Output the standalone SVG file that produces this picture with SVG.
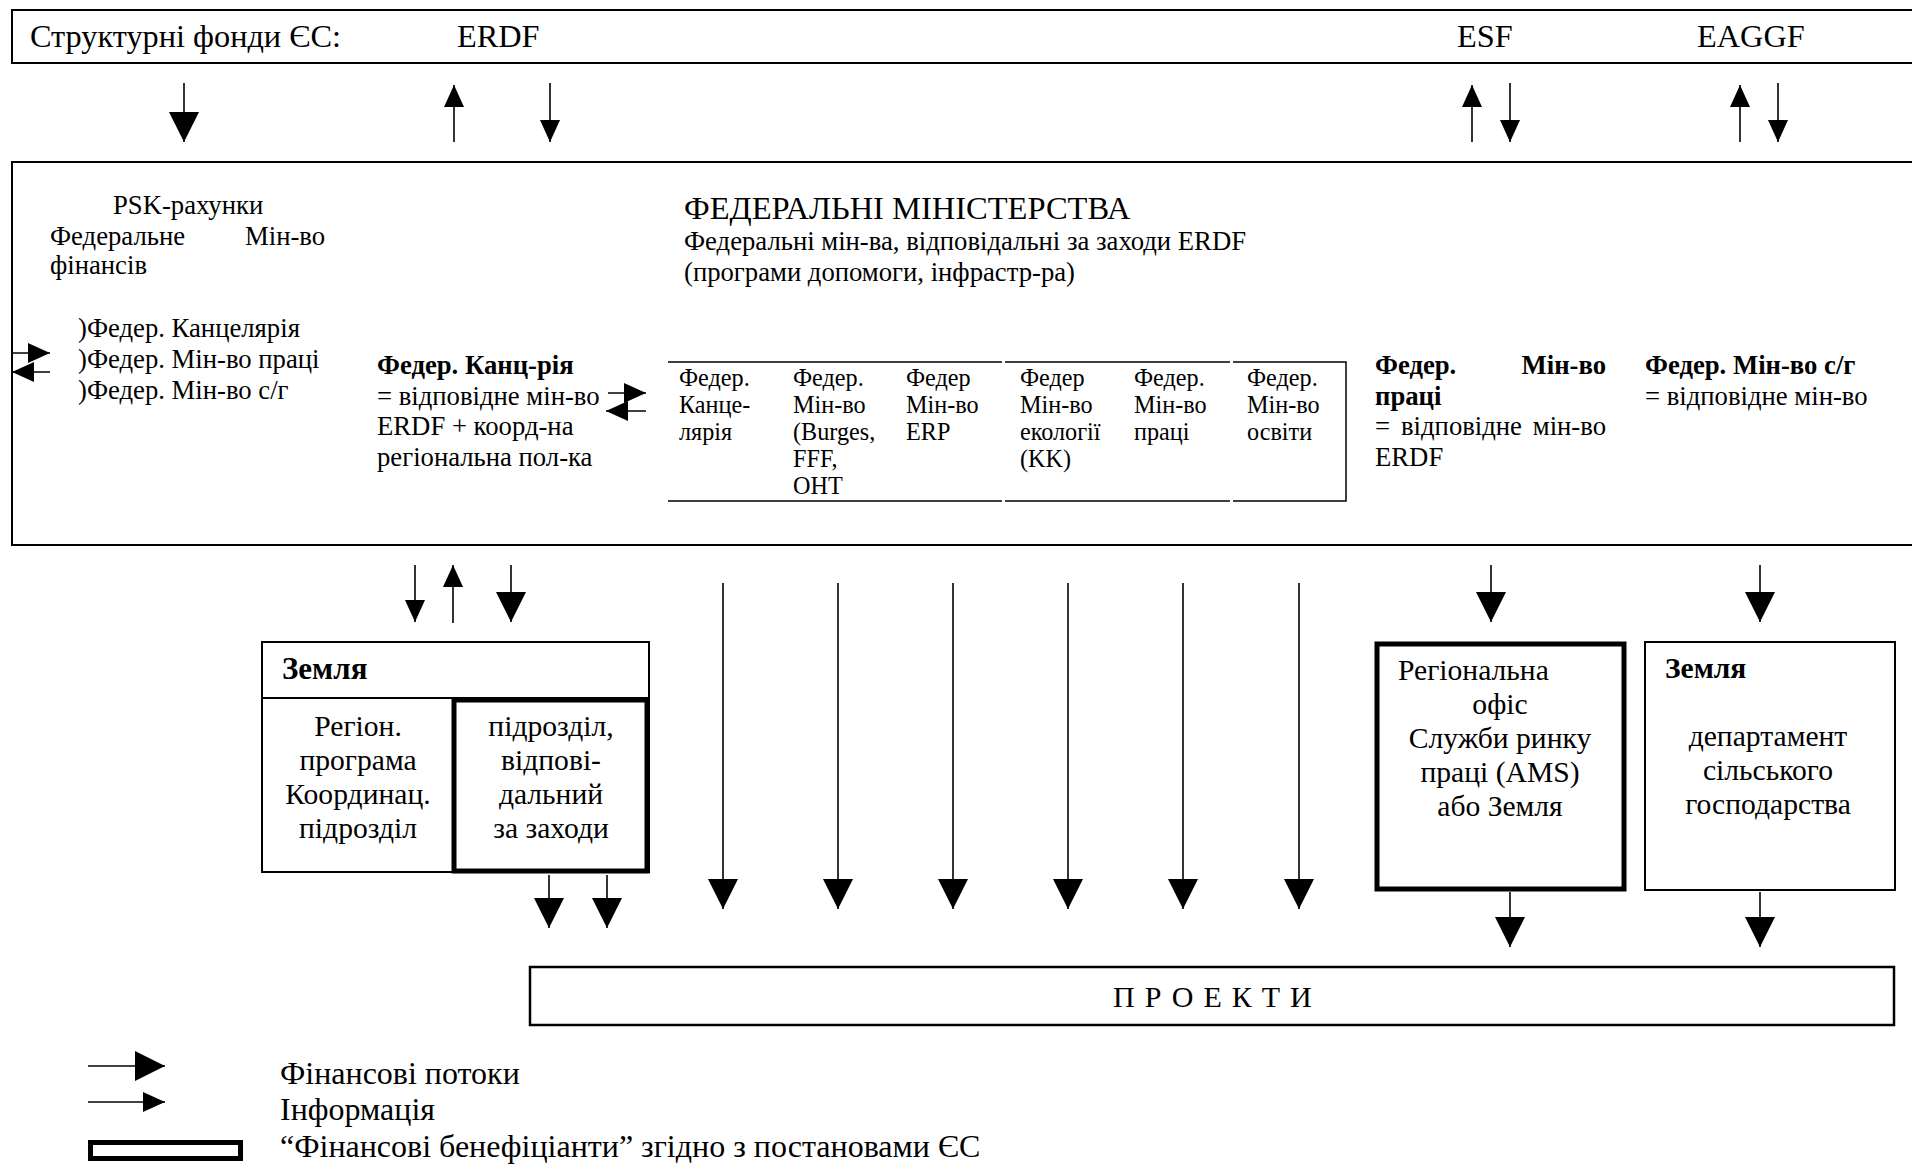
<svg xmlns="http://www.w3.org/2000/svg" width="1912" height="1165" viewBox="0 0 1912 1165">
<style>
.t{font-family:"Liberation Serif","Times New Roman",serif;fill:#000}
.b{font-weight:bold}
.f32{font-size:32.3px}
.fh{font-size:32.5px}
.fl{font-size:32px}
.fp{font-size:30px}
.f28{font-size:29.6px}
.f26{font-size:26.7px}
.f24{font-size:24.2px}
.box{fill:none;stroke:#000;stroke-width:2}
.thick{fill:none;stroke:#000;stroke-width:5}
.thin{fill:none;stroke:#000;stroke-width:1.5}
.ln{fill:none;stroke:#000;stroke-width:1.6}
.m{text-anchor:middle}
.e{text-anchor:end}
</style>
<defs>
<marker id="fin" markerUnits="userSpaceOnUse" markerWidth="30" markerHeight="30" viewBox="0 0 30 30" refX="30" refY="15" orient="auto"><path d="M0,0 L30,15 L0,30 z" fill="#000"/></marker>
<marker id="info" markerUnits="userSpaceOnUse" markerWidth="22" markerHeight="20" viewBox="0 0 22 20" refX="22" refY="10" orient="auto"><path d="M0,0 L22,10 L0,20 z" fill="#000"/></marker>
</defs>
<rect width="1912" height="1165" fill="#fff"/>

<g id="structural-funds">
<rect class="box" x="12" y="10" width="1930" height="53"/>
<text class="t f32" x="30" y="47">Структурні фонди ЄС:</text>
<text class="t f32" x="457" y="47">ERDF</text>
<text class="t f32" x="1457" y="47">ESF</text>
<text class="t f32" x="1697" y="47">EAGGF</text>
</g>

<g id="federal-ministries">
<rect class="box" x="12" y="162" width="1930" height="383"/>
<text class="t f26" x="113" y="214">PSK-рахунки</text>
<text class="t f26" x="50" y="245">Федеральне</text>
<text class="t f26" x="245" y="245">Мін-во</text>
<text class="t f26" x="50" y="274">фінансів</text>
<text class="t f26" x="78" y="337">)Федер. Канцелярія</text>
<text class="t f26" x="78" y="368">)Федер. Мін-во праці</text>
<text class="t f26" x="78" y="399">)Федер. Мін-во с/г</text>
<text class="t fh" x="684" y="219">ФЕДЕРАЛЬНІ МІНІСТЕРСТВА</text>
<text class="t f26" x="684" y="250">Федеральні мін-ва, відповідальні за заходи ERDF</text>
<text class="t f26" x="684" y="281">(програми допомоги, інфрастр-ра)</text>
<text class="t f26 b" x="377" y="374">Федер. Канц-рія</text>
<text class="t f26" x="377" y="404.5">= відповідне мін-во</text>
<text class="t f26" x="377" y="435">ERDF + коорд-на</text>
<text class="t f26" x="377" y="465.5">регіональна пол-ка</text>
<text class="t f26 b" x="1375" y="374">Федер.</text>
<text class="t f26 b e" x="1606" y="374">Мін-во</text>
<text class="t f26 b" x="1375" y="404.5">праці</text>
<text class="t f26" x="1375" y="435">=</text>
<text class="t f26" x="1401" y="435">відповідне</text>
<text class="t f26 e" x="1606" y="435">мін-во</text>
<text class="t f26" x="1375" y="465.5">ERDF</text>
<text class="t f26 b" x="1645" y="374">Федер. Мін-во с/г</text>
<text class="t f26" x="1645" y="404.5">= відповідне мін-во</text>
</g>

<g id="ministries-table">
<path class="thin" d="M668,362 H1002 M1005,362 H1230 M1233,362 H1346 V501 H1233 M1230,501 H1005 M1002,501 H668"/>
<g class="t f24">
<text x="679" y="386">Федер.</text><text x="679" y="413">Канце-</text><text x="679" y="440">лярія</text>
<text x="793" y="386">Федер.</text><text x="793" y="413">Мін-во</text><text x="793" y="440">(Burges,</text><text x="793" y="467">FFF,</text><text x="793" y="494">OHT</text>
<text x="906" y="386">Федер</text><text x="906" y="413">Мін-во</text><text x="906" y="440">ERP</text>
<text x="1020" y="386">Федер</text><text x="1020" y="413">Мін-во</text><text x="1020" y="440">екології</text><text x="1020" y="467">(KK)</text>
<text x="1134" y="386">Федер.</text><text x="1134" y="413">Мін-во</text><text x="1134" y="440">праці</text>
<text x="1247" y="386">Федер.</text><text x="1247" y="413">Мін-во</text><text x="1247" y="440">освіти</text>
</g>
</g>

<g id="land-left">
<rect class="box" x="262" y="642" width="387" height="230"/>
<line class="box" x1="262" y1="698" x2="649" y2="698"/>
<text class="t b" style="font-size:31px" x="282" y="679">Земля</text>
<text class="t f28 m" x="358" y="736">Регіон.</text>
<text class="t f28 m" x="358" y="770">програма</text>
<text class="t f28 m" x="358" y="804">Координац.</text>
<text class="t f28 m" x="358" y="838">підрозділ</text>
</g>
<g id="land-left-unit">
<rect class="thick" x="454" y="700" width="193" height="171"/>
<text class="t f28 m" x="551" y="736">підрозділ,</text>
<text class="t f28 m" x="551" y="770">відпові-</text>
<text class="t f28 m" x="551" y="804">дальний</text>
<text class="t f28 m" x="551" y="838">за заходи</text>
</g>

<g id="ams-office">
<rect class="thick" x="1377" y="644" width="247" height="245"/>
<text class="t f28" x="1398" y="680">Регіональна</text>
<text class="t f28 m" x="1500" y="714">офіс</text>
<text class="t f28 m" x="1500" y="748">Служби ринку</text>
<text class="t f28 m" x="1500" y="782">праці (AMS)</text>
<text class="t f28 m" x="1500" y="816">або Земля</text>
</g>

<g id="land-right">
<rect class="box" x="1645" y="642" width="250" height="248"/>
<text class="t b" style="font-size:29.5px" x="1665" y="678">Земля</text>
<text class="t f28 m" x="1768" y="746">департамент</text>
<text class="t f28 m" x="1768" y="780">сільського</text>
<text class="t f28 m" x="1768" y="814">господарства</text>
</g>

<g id="projects">
<rect class="box" x="530" y="967" width="1364" height="58" style="stroke-width:2.5"/>
<text class="t fp" x="1113" y="1007" style="letter-spacing:10px">ПРОЕКТИ</text>
</g>

<g id="connectors">
<line class="ln" x1="184" y1="83" x2="184" y2="142" marker-end="url(#fin)"/>
<line class="ln" x1="454" y1="142" x2="454" y2="85" marker-end="url(#info)"/>
<line class="ln" x1="550" y1="83" x2="550" y2="142" marker-end="url(#info)"/>
<line class="ln" x1="1472" y1="142" x2="1472" y2="85" marker-end="url(#info)"/>
<line class="ln" x1="1510" y1="83" x2="1510" y2="142" marker-end="url(#info)"/>
<line class="ln" x1="1740" y1="142" x2="1740" y2="85" marker-end="url(#info)"/>
<line class="ln" x1="1778" y1="83" x2="1778" y2="142" marker-end="url(#info)"/>

<line class="ln" x1="12" y1="353" x2="50" y2="353" marker-end="url(#info)"/>
<line class="ln" x1="50" y1="372" x2="12" y2="372" marker-end="url(#info)"/>
<line class="ln" x1="608" y1="393" x2="646" y2="393" marker-end="url(#info)"/>
<line class="ln" x1="646" y1="411" x2="606" y2="411" marker-end="url(#info)"/>

<line class="ln" x1="415" y1="565" x2="415" y2="622" marker-end="url(#info)"/>
<line class="ln" x1="453" y1="623" x2="453" y2="565" marker-end="url(#info)"/>
<line class="ln" x1="511" y1="565" x2="511" y2="622" marker-end="url(#fin)"/>
<line class="ln" x1="1491" y1="565" x2="1491" y2="622" marker-end="url(#fin)"/>
<line class="ln" x1="1760" y1="565" x2="1760" y2="622" marker-end="url(#fin)"/>

<line class="ln" x1="549" y1="875" x2="549" y2="928" marker-end="url(#fin)"/>
<line class="ln" x1="607" y1="875" x2="607" y2="928" marker-end="url(#fin)"/>
<line class="ln" x1="723" y1="583" x2="723" y2="909" marker-end="url(#fin)"/>
<line class="ln" x1="838" y1="583" x2="838" y2="909" marker-end="url(#fin)"/>
<line class="ln" x1="953" y1="583" x2="953" y2="909" marker-end="url(#fin)"/>
<line class="ln" x1="1068" y1="583" x2="1068" y2="909" marker-end="url(#fin)"/>
<line class="ln" x1="1183" y1="583" x2="1183" y2="909" marker-end="url(#fin)"/>
<line class="ln" x1="1299" y1="583" x2="1299" y2="909" marker-end="url(#fin)"/>
<line class="ln" x1="1510" y1="892" x2="1510" y2="947" marker-end="url(#fin)"/>
<line class="ln" x1="1760" y1="892" x2="1760" y2="947" marker-end="url(#fin)"/>
</g>

<g id="legend">
<line class="ln" x1="88" y1="1066" x2="165" y2="1066" marker-end="url(#fin)"/>
<line class="ln" x1="88" y1="1102" x2="165" y2="1102" marker-end="url(#info)"/>
<rect class="thick" x="90.5" y="1142.5" width="150" height="16"/>
<text class="t fl" x="280" y="1084">Фінансові потоки</text>
<text class="t fl" x="280" y="1120">Інформація</text>
<text class="t fl" x="280" y="1157">“Фінансові бенефіціанти” згідно з постановами ЄС</text>
</g>
</svg>
